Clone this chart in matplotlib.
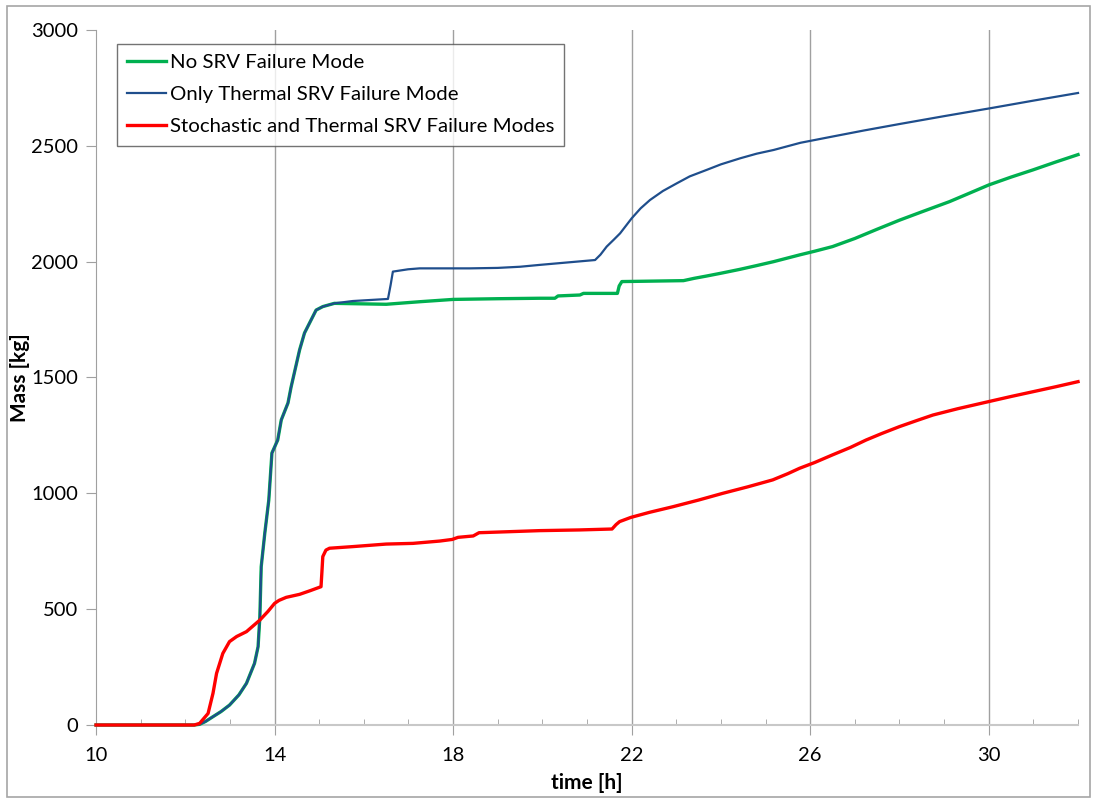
import numpy as np
import matplotlib.pyplot as plt
from matplotlib.patches import Rectangle
from matplotlib.ticker import MultipleLocator

plt.rcParams['font.family'] = ['Lato', 'DejaVu Sans']

# common rise of the two SRV cases (identical up to ~15.3 h)
t_rise = [10.0, 12.2, 12.32, 12.45, 12.62, 12.8, 12.99, 13.2, 13.37, 13.55, 13.63, 13.67,
          13.70, 13.78, 13.87, 13.94, 14.07, 14.15, 14.30, 14.37, 14.56, 14.67, 14.93,
          15.08, 15.34]
m_rise = [0, 0, 3, 15, 36, 58, 86, 130, 180, 266, 338, 468,
          683, 827, 971, 1174, 1230, 1317, 1390, 1459, 1619, 1692, 1791,
          1806, 1820]

# no SRV failure mode
t_green = [16.50, 17.25, 18.0, 19.0, 19.94, 20.28, 20.35, 20.84, 20.92, 21.68, 21.72,
           21.78, 23.16, 23.4, 23.68, 24.0, 24.43, 24.8, 25.18, 25.5, 25.76, 26.1, 26.5,
           27.0, 27.5, 28.0, 28.5, 29.12, 29.5, 30.0, 30.5, 30.99, 31.5, 32.0]
m_green = [1816, 1827, 1837, 1840, 1842, 1842, 1852, 1856, 1863, 1863, 1895,
           1914, 1918, 1928, 1938, 1950, 1967, 1983, 2000, 2016, 2029, 2045, 2065,
           2100, 2140, 2179, 2215, 2259, 2290, 2331, 2365, 2396, 2430, 2462]

# only thermal SRV failure mode
t_blue = [15.75, 16.54, 16.60, 16.65, 16.99, 17.25, 18.37, 19.0, 19.5, 19.94, 21.18,
          21.3, 21.44, 21.6, 21.74, 22.0, 22.2, 22.41, 22.7, 23.01, 23.3, 23.68, 24.0,
          24.43, 24.8, 25.18, 25.78, 26.5, 27.2, 28.0, 29.0, 30.03, 31.0, 32.0]
m_blue = [1830, 1839, 1900, 1957, 1967, 1971, 1971, 1973, 1978, 1986, 2007,
          2030, 2065, 2095, 2122, 2187, 2230, 2266, 2305, 2338, 2368, 2396, 2420,
          2446, 2466, 2482, 2513, 2540, 2566, 2594, 2628, 2662, 2695, 2728]

# stochastic and thermal SRV failure modes
t_red = [10.0, 12.2, 12.32, 12.51, 12.62, 12.70, 12.84, 12.99, 13.15, 13.37, 13.67,
         13.85, 14.0, 14.1, 14.26, 14.56, 14.8, 15.04, 15.06, 15.08, 15.15, 15.23,
         15.75, 16.5, 17.1, 17.7, 17.98, 18.11, 18.45, 18.58, 19.19, 19.94, 20.83,
         21.56, 21.65, 21.73, 21.98, 22.4, 22.92, 23.5, 24.04, 24.6, 25.16, 25.5,
         25.76, 26.1, 26.5, 26.9, 27.25, 27.6, 28.0, 28.4, 28.75, 29.3, 30.0, 30.5,
         31.0, 31.5, 32.0]
m_red = [0, 0, 7, 50, 137, 223, 309, 360, 382, 403, 453,
         490, 525, 538, 551, 564, 580, 597, 660, 727, 755, 763,
         770, 781, 784, 794, 801, 810, 816, 830, 834, 839, 842,
         846, 865, 878, 896, 918, 942, 971, 1000, 1028, 1058, 1085,
         1108, 1133, 1166, 1198, 1230, 1258, 1288, 1315, 1338, 1365, 1396, 1418,
         1439, 1460, 1482]

fig = plt.figure(figsize=(10.94, 7.99), dpi=100)
ax = fig.add_axes([0.0878, 0.0926, 0.8976, 0.8699])

ax.plot(t_rise + t_green, m_rise + m_green, color='#00B050', lw=2.4,
        label='No SRV Failure Mode', clip_on=False, zorder=3)
ax.plot(t_rise + t_blue, m_rise + m_blue, color='#1F4E8C', lw=1.6,
        label='Only Thermal SRV Failure Mode', clip_on=False, zorder=4)
ax.plot(t_red, m_red, color='#FF0000', lw=2.4,
        label='Stochastic and Thermal SRV Failure Modes', clip_on=False, zorder=5)

ax.set_xlim(10, 32)
ax.set_ylim(0, 3000)
ax.set_xticks([10, 14, 18, 22, 26, 30])
ax.xaxis.set_minor_locator(MultipleLocator(1))
ax.set_yticks(np.arange(0, 3001, 500))

grid_c = '#A0A0A0'
for x in [14, 18, 22, 26, 30]:
    ax.axvline(x, color=grid_c, lw=1, zorder=0)

for s in ['top', 'right']:
    ax.spines[s].set_visible(False)
ax.spines['left'].set_color(grid_c)
ax.spines['bottom'].set_color('#C8C8C8')
ax.spines['bottom'].set_linewidth(1.5)

ax.tick_params(axis='both', which='major', direction='out', length=7,
               color=grid_c, labelsize=14.5, labelcolor='black', pad=6)
ax.tick_params(axis='x', which='minor', direction='in', length=4, color=grid_c)
ax.tick_params(axis='y', which='minor', left=False)
ax.tick_params(axis='x', which='major', pad=9)

ax.set_xlabel('time [h]', fontsize=15, fontweight='bold', labelpad=6)
ax.set_ylabel('Mass [kg]', fontsize=15, fontweight='bold')
ax.yaxis.set_label_coords(-0.067, 0.5)

leg = ax.legend(loc='upper left', bbox_to_anchor=(0.021, 0.980), borderaxespad=0,
                fontsize=14.7, frameon=True, fancybox=False, edgecolor='#505050',
                handlelength=1.9, handletextpad=0.2, borderpad=0.5,
                labelspacing=0.72)
leg.get_frame().set_linewidth(1)

fig.patches.append(Rectangle((0.006, 0.003), 0.99, 0.99, transform=fig.transFigure,
                             fill=False, edgecolor='#A6A6A6', lw=1.2))

fig.savefig('out.png', dpi=100)
